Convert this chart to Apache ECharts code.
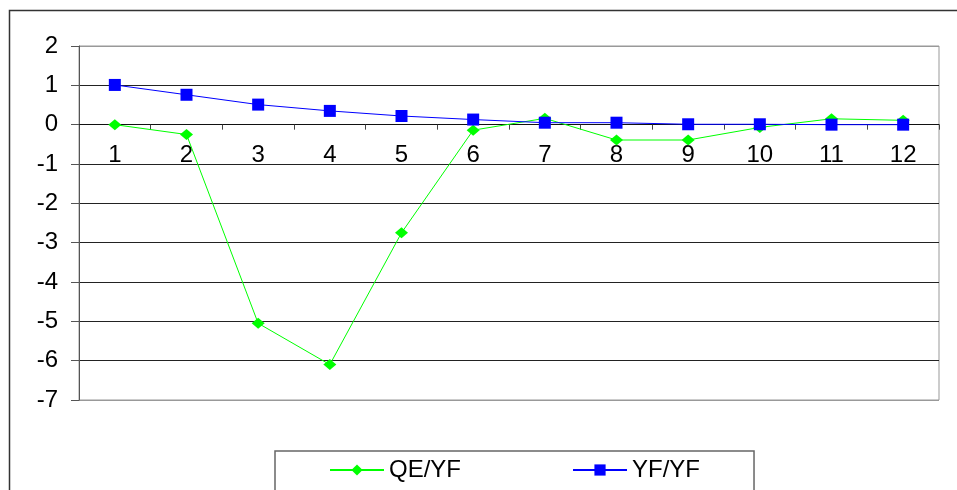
<!DOCTYPE html>
<html>
<head>
<meta charset="utf-8">
<script src="https://cdn.jsdelivr.net/npm/echarts@6/dist/echarts.min.js"></script>
<style>
html,body{margin:0;padding:0;background:#fff;}
#chart{width:957px;height:490px;}
</style>
</head>
<body>
<div id="chart"></div>
<script>
var categories = ['1','2','3','4','5','6','7','8','9','10','11','12'];
var qeYF = [0, -0.25, -5.05, -6.1, -2.75, -0.14, 0.16, -0.39, -0.39, -0.07, 0.15, 0.11];
var yfYF = [1.01, 0.76, 0.51, 0.35, 0.22, 0.13, 0.05, 0.05, 0.01, 0.01, 0.0, 0.0];
var yTicks = {min: -7, max: 2, interval: 1};

var chart = echarts.init(document.getElementById('chart'));
var font = 'Liberation Sans, Arial, sans-serif';
var fs = 24;
var gridTop = 46, gridBottom = 90, H = 490;
var plotH = H - gridTop - gridBottom;
// distance from grid bottom up to the zero line
var zeroOffset = -plotH * (0 - yTicks.min) / (yTicks.max - yTicks.min);
var splitColors = [];
for (var i = yTicks.min; i <= yTicks.max; i++) {
  splitColors.push((i === yTicks.min || i === yTicks.max) ? '#999' : '#222');
}
chart.setOption({
  animation: false,
  backgroundColor: '#fff',
  graphic: [{
    type: 'rect',
    shape: {x: 9.5, y: 10.5, width: 1000, height: 1000},
    style: {fill: 'none', stroke: '#333', lineWidth: 1.5},
    silent: true,
    z: -10
  }],
  grid: {
    left: 79, top: gridTop, right: 18, bottom: gridBottom,
    show: true, borderColor: '#999', borderWidth: 1, backgroundColor: 'transparent'
  },
  legend: {
    left: 275, top: 451,
    padding: [7, 54, 40, 54],
    borderColor: '#666', borderWidth: 1.5,
    itemWidth: 54, itemHeight: 14, itemGap: 111,
    textStyle: {fontFamily: font, fontSize: fs, color: '#000'},
    data: ['QE/YF', 'YF/YF']
  },
  xAxis: {
    type: 'category',
    data: categories,
    boundaryGap: true,
    position: 'bottom',
    offset: zeroOffset,
    axisLine: {onZero: false, lineStyle: {color: '#111', width: 1}},
    axisTick: {show: true, length: 5, lineStyle: {color: '#444'}},
    axisLabel: {margin: 19, fontFamily: font, fontSize: fs, color: '#000'},
    splitLine: {show: false}
  },
  yAxis: {
    type: 'value',
    min: yTicks.min, max: yTicks.max, interval: yTicks.interval,
    axisLine: {show: true, lineStyle: {color: '#555', width: 1}},
    axisTick: {show: true, length: 8, lineStyle: {color: '#555'}},
    axisLabel: {margin: 21, fontFamily: font, fontSize: fs, color: '#000'},
    splitLine: {show: true, lineStyle: {color: splitColors, width: 1}}
  },
  series: [{
    name: 'QE/YF',
    type: 'line',
    data: qeYF,
    symbol: 'diamond',
    symbolSize: [13, 11],
    lineStyle: {color: '#00ff00', width: 1},
    itemStyle: {color: '#00ff00'},
    z: 2
  }, {
    name: 'YF/YF',
    type: 'line',
    data: yfYF,
    symbol: 'rect',
    symbolSize: 12,
    lineStyle: {color: '#0000ff', width: 1},
    itemStyle: {color: '#0000ff'},
    z: 3
  }]
});
</script>
</body>
</html>
